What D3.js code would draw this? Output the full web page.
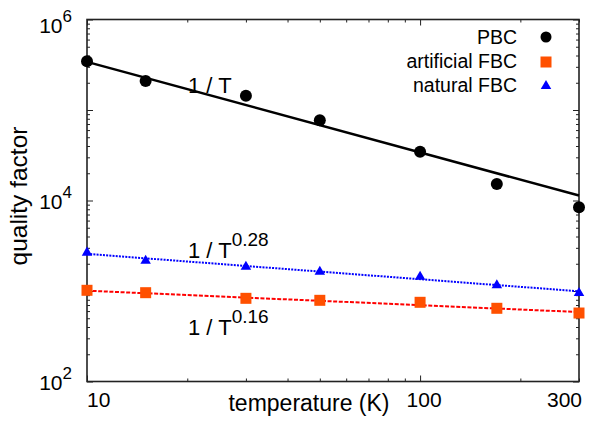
<!DOCTYPE html>
<html><head><meta charset="utf-8">
<script src="https://cdn.jsdelivr.net/npm/d3@7/dist/d3.min.js"></script>
<style>
html,body{margin:0;padding:0;background:#fff;}
text{font-family:"Liberation Sans",Arial,Helvetica,sans-serif;fill:#000;}
</style></head>
<body>
<svg id="chart" width="589" height="424"></svg>
<script>
// ---- data ----
const temperatures = [10, 15, 30, 50, 100, 170, 300];
const pbc = [345000, 209000, 144000, 76900, 34600, 15200, 8410];
const artificialFBC = [1018, 958, 830, 789, 750, 644, 571];
const naturalFBC = [2650, 2160, 1855, 1633, 1438, 1156, 950];
// power-law fits Q = A / T^n
const fitPBC = {A: 3.4e6, n: 1};
const fitNatural = {A: 4900, n: 0.28};
const fitArtificial = {A: 1457, n: 0.16};
const xTickLabels = [10, 100, 300];
const yTickExponents = [2, 4, 6];
const legendNames = ["PBC", "artificial FBC", "natural FBC"];

// ---- layout ----
const L = 87, R = 579, T = 19.5, B = 381.5;
const svg = d3.select("#chart");
const x = d3.scaleLog().domain([10, 300]).range([L, R]);
const y = d3.scaleLog().domain([1e2, 1e6]).range([B, T]);

const frameColor = "#222";
const orange = "#ff5000";

// minor/major tick values
const xMinor = [], yMinor = [], yMajor = [];
for (let d = 10; d <= 100; d *= 10) for (let k = 2; k <= 9; k++) { const v = k * d; if (v <= 300 && v !== 100) xMinor.push(v); }
const xMajor = [10, 100];
for (let e = 2; e <= 6; e++) yMajor.push(Math.pow(10, e));
for (let e = 2; e < 6; e++) for (let k = 2; k <= 9; k++) yMinor.push(k * Math.pow(10, e));

function drawAxis(axisGen, transform) {
  const g = svg.append("g").attr("transform", transform).call(axisGen);
  g.select(".domain").remove();
  g.selectAll("text").remove();
  g.selectAll("line").attr("stroke", frameColor).attr("stroke-width", 1);
  return g;
}
drawAxis(d3.axisBottom(x).tickValues(xMajor).tickSize(-6), `translate(0,${B})`);
drawAxis(d3.axisBottom(x).tickValues(xMinor).tickSize(-3), `translate(0,${B})`);
drawAxis(d3.axisTop(x).tickValues(xMajor).tickSize(-6), `translate(0,${T})`);
drawAxis(d3.axisTop(x).tickValues(xMinor).tickSize(-3), `translate(0,${T})`);
drawAxis(d3.axisLeft(y).tickValues(yMajor).tickSize(-6), `translate(${L},0)`);
drawAxis(d3.axisLeft(y).tickValues(yMinor).tickSize(-3), `translate(${L},0)`);
drawAxis(d3.axisRight(y).tickValues(yMajor).tickSize(-6), `translate(${R},0)`);
drawAxis(d3.axisRight(y).tickValues(yMinor).tickSize(-3), `translate(${R},0)`);

svg.append("rect").attr("x", L).attr("y", T).attr("width", R - L).attr("height", B - T)
  .attr("fill", "none").attr("stroke", frameColor).attr("stroke-width", 1.6);

// x tick labels
xTickLabels.forEach((v, i) => {
  const anchor = i === 0 ? "start" : (i === xTickLabels.length - 1 ? "end" : "middle");
  svg.append("text").attr("x", x(v) + (anchor === "middle" ? 4 : (anchor === "end" ? 3 : 0)))
    .attr("y", 407).attr("text-anchor", anchor).attr("font-size", 21).text(v);
});
// y tick labels
yTickExponents.forEach(e => {
  const yy = Math.max(y(Math.pow(10, e)) + 8, 33);
  const t = svg.append("text").attr("x", 72).attr("y", yy).attr("text-anchor", "end").attr("font-size", 21);
  t.append("tspan").text("10");
  t.append("tspan").attr("dy", -11).attr("font-size", 17).text(e);
});

// axis titles
svg.append("text").attr("x", 309).attr("y", 411).attr("text-anchor", "middle")
  .attr("font-size", 23).text("temperature (K)");
svg.append("text").attr("transform", "translate(27,196) rotate(-90)").attr("text-anchor", "middle")
  .attr("font-size", 24.5).text("quality factor");

// fit lines
const line = d3.line().x(d => x(d[0])).y(d => y(d[1]));
function fitPts(f) { return [10, 300].map(t => [t, f.A / Math.pow(t, f.n)]); }
svg.append("path").attr("d", line(fitPts(fitPBC))).attr("fill", "none").attr("stroke", "#000").attr("stroke-width", 2.5);
svg.append("path").attr("d", line(fitPts(fitNatural))).attr("fill", "none").attr("stroke", "#0000ff")
  .attr("stroke-width", 2).attr("stroke-dasharray", "2,1.2");
svg.append("path").attr("d", line(fitPts(fitArtificial))).attr("fill", "none").attr("stroke", "#ff0000")
  .attr("stroke-width", 2).attr("stroke-dasharray", "4,1.6");

// markers
const tri = d3.symbol().type(d3.symbolTriangle).size(48);
svg.append("g").selectAll("circle").data(temperatures).join("circle")
  .attr("cx", d => x(d)).attr("cy", (d, i) => y(pbc[i])).attr("r", 6).attr("fill", "#000");
svg.append("g").selectAll("rect").data(temperatures).join("rect")
  .attr("x", d => x(d) - 5.5).attr("y", (d, i) => y(artificialFBC[i]) - 5.5)
  .attr("width", 11).attr("height", 11).attr("fill", orange);
svg.append("g").selectAll("path").data(temperatures).join("path")
  .attr("d", tri).attr("transform", (d, i) => `translate(${x(d)},${y(naturalFBC[i])})`).attr("fill", "#0000ff");

// fit labels
function fitLabel(yy, exp) {
  const t = svg.append("text").attr("x", 188).attr("y", yy).attr("font-size", 22);
  t.append("tspan").text("1 / T");
  if (exp) t.append("tspan").attr("dy", -12).attr("font-size", 19).text(exp);
}
fitLabel(93, null);
fitLabel(258, "0.28");
fitLabel(335, "0.16");

// legend
const legY = [37, 61, 85];
legendNames.forEach((n, i) => {
  svg.append("text").attr("x", 517).attr("y", legY[i] + 7).attr("text-anchor", "end")
    .attr("font-size", 19.5).text(n);
});
svg.append("circle").attr("cx", 546).attr("cy", legY[0]).attr("r", 5.5).attr("fill", "#000");
svg.append("rect").attr("x", 546 - 5.5).attr("y", legY[1] + 1 - 5.5).attr("width", 11).attr("height", 11).attr("fill", orange);
svg.append("path").attr("d", tri).attr("transform", `translate(546,${legY[2] + 1})`).attr("fill", "#0000ff");
</script>
</body></html>
